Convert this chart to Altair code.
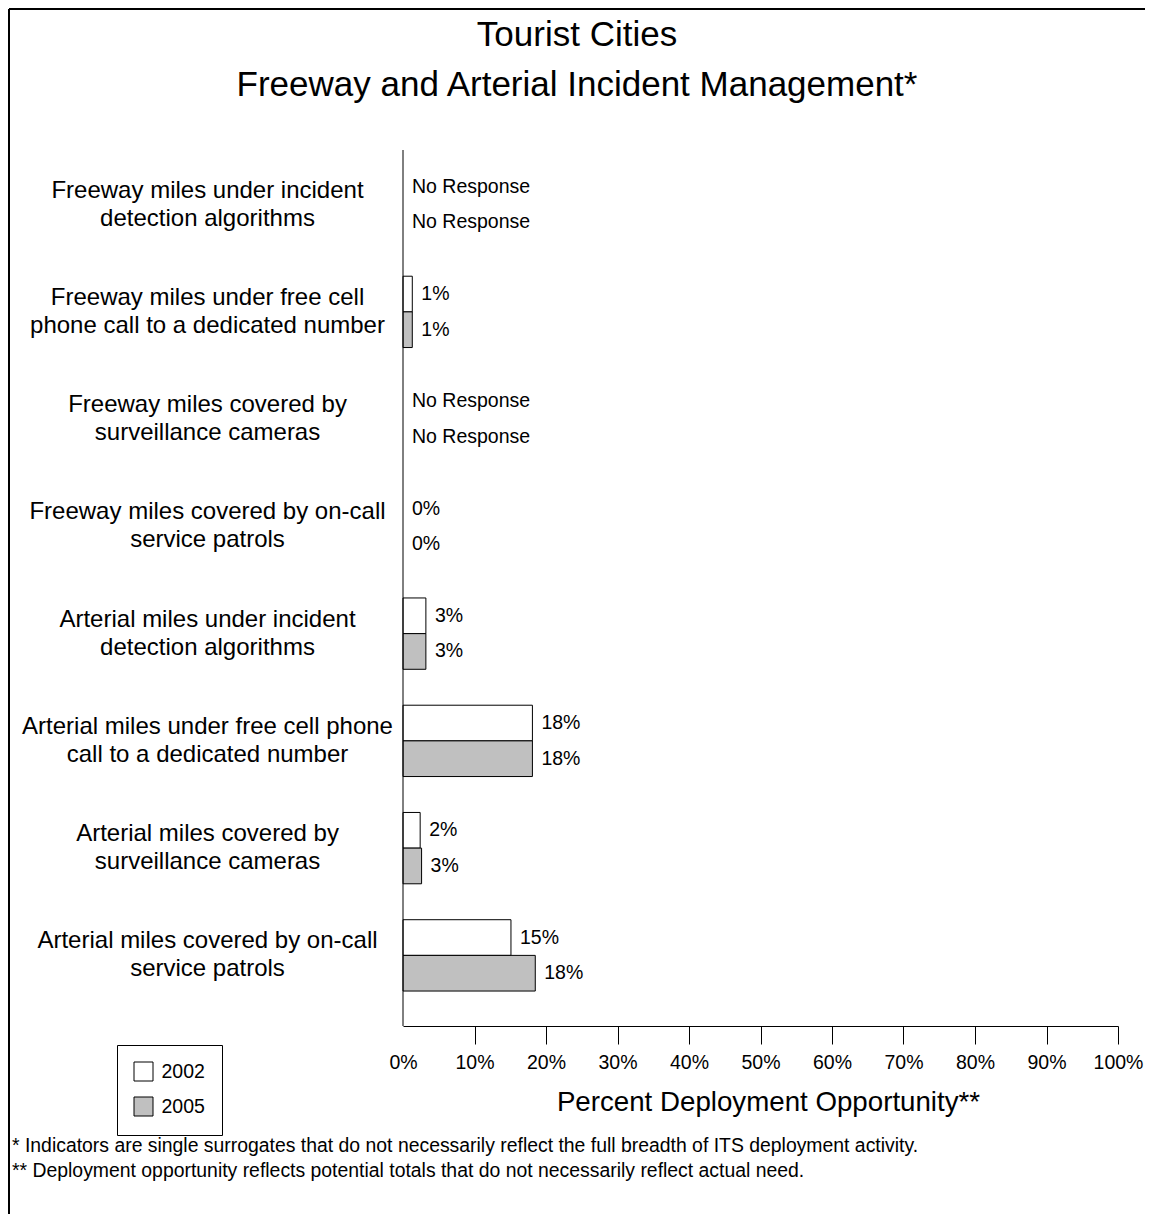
import altair as alt
import pandas as pd

categories = [
    "Freeway miles under incident\ndetection algorithms",
    "Freeway miles under free cell\nphone call to a dedicated number",
    "Freeway miles covered by\nsurveillance cameras",
    "Freeway miles covered by on-call\nservice patrols",
    "Arterial miles under incident\ndetection algorithms",
    "Arterial miles under free cell phone\ncall to a dedicated number",
    "Arterial miles covered by\nsurveillance cameras",
    "Arterial miles covered by on-call\nservice patrols",
]
years = ["2002", "2005"]
values_2002 = [None, 1.3, None, 0.0, 3.2, 18.1, 2.4, 15.1]
values_2005 = [None, 1.3, None, 0.0, 3.2, 18.1, 2.6, 18.5]
labels_2002 = ["No Response", "1%", "No Response", "0%", "3%", "18%", "2%", "15%"]
labels_2005 = ["No Response", "1%", "No Response", "0%", "3%", "18%", "3%", "18%"]
x_ticks = [0, 10, 20, 30, 40, 50, 60, 70, 80, 90, 100]
title_line1 = "Tourist Cities"
title_line2 = "Freeway and Arterial Incident Management*"
x_title = "Percent Deployment Opportunity**"
footnotes = [
    "* Indicators are single surrogates that do not necessarily reflect the full breadth of ITS deployment activity.",
    "** Deployment opportunity reflects potential totals that do not necessarily reflect actual need.",
]
fill_colors = ["#ffffff", "#c0c0c0"]

rows = []
for i, cat in enumerate(categories):
    for yr, vals, labs in ((years[0], values_2002, labels_2002), (years[1], values_2005, labels_2005)):
        v = vals[i]
        rows.append({
            "category": cat,
            "year": yr,
            "value": v,
            "label_x": v if v is not None else 0.0,
            "label": labs[i],
        })
df = pd.DataFrame(rows)

W, H = 715, 876
PAD_L, PAD_T, PAD_R, PAD_B = 395, 142, 27, 188

y_enc = alt.Y(
    "category:N",
    sort=categories,
    scale=alt.Scale(range=[1, 859], paddingInner=0.335, paddingOuter=0.1675),
    axis=alt.Axis(
        title=None, domain=False, ticks=False, labelAlign="center",
        labelBaseline="middle", labelPadding=196, labelFontSize=24,
        labelLineHeight=28, labelLimit=500, labelColor="black", labelOffset=-14,
        labelExpr="split(datum.label, '\\n')",
    ),
)
yoff_enc = alt.YOffset("year:N", sort=years, scale=alt.Scale(paddingInner=0, paddingOuter=0))

x_axis = alt.Axis(
    values=x_ticks, labelExpr="datum.value + '%'", grid=False,
    tickSize=18, tickWidth=1,
    tickColor=alt.condition("datum.value === 0", alt.value("transparent"), alt.value("black")),
    domainColor="black", domainWidth=1, labelFontSize=19.5, labelPadding=9,
    labelColor="black", labelFlush=False,
    title=x_title, titleFontSize=27.7, titleFontWeight="normal", titleColor="black",
    titleX=365, titleY=76, titleAlign="center", titleBaseline="middle",
)

bars = alt.Chart(df).transform_filter("datum.value > 0").mark_bar(stroke="black", strokeWidth=1).encode(
    x=alt.X("value:Q", scale=alt.Scale(domain=[0, 100]), axis=x_axis),
    y=y_enc,
    yOffset=yoff_enc,
    fill=alt.Fill(
        "year:N", sort=years,
        scale=alt.Scale(domain=years, range=fill_colors),
        legend=alt.Legend(
            title=None, orient="none", legendX=-286, legendY=895,
            symbolType="square", symbolSize=361, symbolStrokeColor="black",
            symbolStrokeWidth=1, labelFontSize=19.5, labelColor="black",
            rowPadding=11, padding=16.5, strokeColor="black", labelOffset=8,
        ),
    ),
)

labels = alt.Chart(df).mark_text(align="left", baseline="middle", dx=9, fontSize=19.5, color="black").encode(
    x=alt.X("label_x:Q"),
    y=y_enc,
    yOffset=yoff_enc,
    text="label:N",
)

one = alt.Data(values=[{"k": 1}])
y_axis_line = alt.Chart(one).mark_rule(color="black", strokeWidth=1).encode(
    x=alt.value(0), y=alt.value(0), y2=alt.value(H)
)
border_top = alt.Chart(one).mark_rule(color="black", strokeWidth=2).encode(
    x=alt.value(-PAD_L + 1), x2=alt.value(W + PAD_R), y=alt.value(-PAD_T + 1)
)
border_left = alt.Chart(one).mark_rule(color="black", strokeWidth=2).encode(
    x=alt.value(-PAD_L + 1), y=alt.value(-PAD_T + 1), y2=alt.value(H + PAD_B)
)
title1 = alt.Chart(one).mark_text(
    text=title_line1, align="center", baseline="middle", fontSize=35, color="black"
).encode(x=alt.value(174), y=alt.value(-115))
title2 = alt.Chart(one).mark_text(
    text=title_line2, align="center", baseline="middle", fontSize=35, color="black"
).encode(x=alt.value(174), y=alt.value(-65))
notes = alt.Chart(one).mark_text(
    text=footnotes, align="left", baseline="middle", fontSize=19.4, lineHeight=25, color="black"
).encode(x=alt.value(-391), y=alt.value(996))

chart = alt.layer(
    border_top, border_left, bars, labels, y_axis_line, title1, title2, notes
).properties(
    width=W, height=H,
    autosize=alt.AutoSizeParams(type="none"),
    padding={"left": PAD_L, "top": PAD_T, "right": PAD_R, "bottom": PAD_B},
).configure(font="Liberation Sans").configure_view(stroke="transparent")

chart.save("out.html", embed_options={"renderer": "svg", "actions": False})
